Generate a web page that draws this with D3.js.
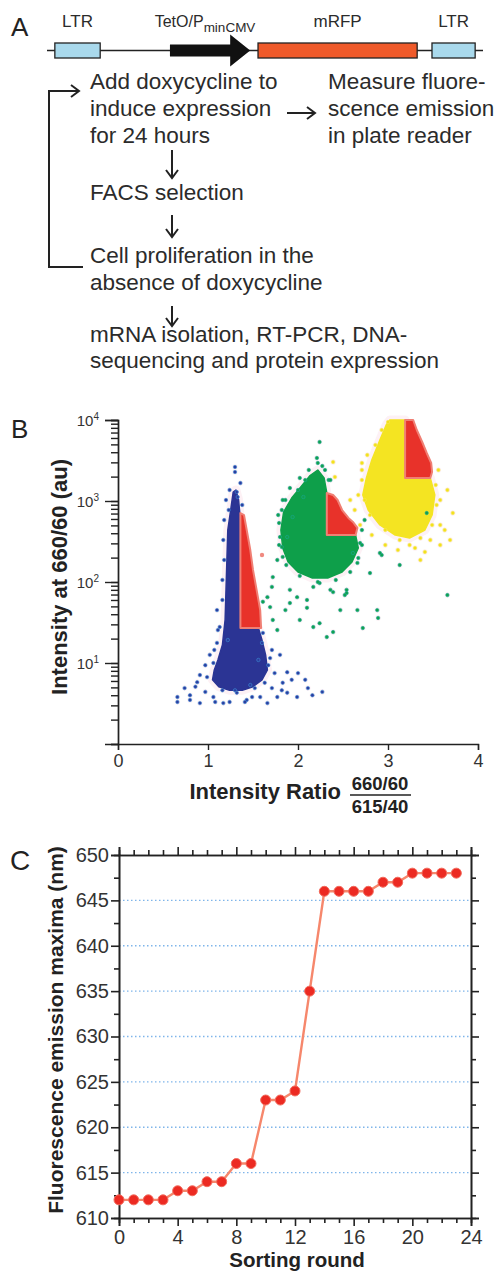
<!DOCTYPE html>
<html>
<head>
<meta charset="utf-8">
<script src="https://cdn.jsdelivr.net/npm/d3@7"></script>
<style>
body { margin: 0; background: #fff; }
svg { display: block; font-family: "Liberation Sans", Arial, sans-serif; }
</style>
</head>
<body>
<svg id="fig" width="496" height="1276"></svg>
<script>
// ---------- panel A: construct and protocol ----------
var constructParts = [
    {name: "LTR", type: "ltr", start: 1.8, end: 12.2},
    {name: "TetO/P", sub: "minCMV", type: "promoter", start: 28.2, end: 46.6},
    {name: "mRFP", type: "gene", start: 48.4, end: 84.9},
    {name: "LTR", type: "ltr", start: 88.3, end: 98.2}
];
var stepsLeft = ["Add doxycycline to", "induce expression", "for 24 hours",
    "FACS selection", "Cell proliferation in the", "absence of doxycycline",
    "mRNA isolation, RT-PCR, DNA-", "sequencing and protein expression"];
var stepsRight = ["Measure fluore-", "scence emission", "in plate reader"];

// ---------- panel B: FACS scatter (ratio, intensity) ----------
var bXTicks = [0, 1, 2, 3, 4];
var bYLabels = [10, 100, 1000, 10000];

var blueCore = [[1.31,1368],[1.34,1028],[1.36,582],[1.36,27],[1.56,27],[1.60,19.2],[1.64,12.6],
    [1.66,8.2],[1.60,6.2],[1.50,5.1],[1.38,4.6],[1.24,4.6],[1.12,5.1],[1.05,6.2],[1.07,8.2],
    [1.11,10.9],[1.16,16.7],[1.19,34],[1.20,80],[1.21,187],[1.22,438],[1.26,893],[1.28,1292]];
var blueGate = [[1.36,711],[1.40,671],[1.43,438],[1.47,248],[1.50,141],[1.54,80],[1.58,45],[1.59,27],[1.36,27]];
var bluePoints = [[1.30,2630],[1.30,2280],[1.32,1292],[1.33,1120],[0.66,3.8],[0.66,3.3],[0.86,5.1],
    [0.91,3.2],[1.06,3.8],[1.17,3.2],[1.32,4.3],[1.43,3.5],[1.58,3.8],[1.66,3.2],[1.77,3.8],[1.88,4.3],
    [1.99,3.8],[2.11,4.9],[2.27,4.4],[2.00,7.5],[1.80,12.6],[1.69,11.5],[1.88,7.7],[1.74,7.5],[1.60,17.7],
    [1.61,23.5],[1.06,10],[0.99,6.7],[0.88,5.8],[1.10,17.7],[1.13,27.8],[1.10,45],[0.97,4.4],[0.80,4.0],
    [0.74,4.9],[1.52,4.9],[1.63,5.7],[1.83,5.7],[1.93,6.2],[1.71,4.9],[1.41,3.3],[1.24,3.3],[1.08,3.3],
    [1.49,3.8],[1.18,187],[1.16,106],[1.17,330],[1.23,774],[1.11,25.5],[1.07,14.5],
    [0.97,9.4],[1.02,12.6],[0.91,7.1],[1.67,9.4],[1.71,14.5],[1.56,10.9],[1.47,5.35],[1.30,4.6],
    [1.16,4.6],[1.22,19.2],[1.16,60],[1.18,582],[1.20,1028],[1.24,1368],[1.36,1667],[1.38,893],
    [1.82,4.6],[2.08,6.2],[2.16,4.0],[0.80,3.5]];

var greenCore = [[2.13,2037],[2.22,2415],[2.29,1923],[2.32,1256],[2.32,380],[2.64,380],[2.67,263],
    [2.60,177],[2.49,133],[2.33,112],[2.16,112],[2.00,133],[1.89,177],[1.83,263],[1.81,438],
    [1.84,731],[1.93,1089],[2.04,1531]];
var greenGate = [[2.32,1256],[2.39,1186],[2.44,1028],[2.49,774],[2.56,617],[2.61,551],[2.66,465],[2.64,380],[2.32,380]];
var greenPoints = [[2.24,5350],[2.21,3395],[2.22,2946],[1.86,1028],[1.82,774],[1.79,535],[1.80,359],
    [1.82,270],[1.77,187],[1.72,115],[1.71,87],[1.66,65],[1.61,57],[1.69,49],[1.72,34],[1.77,25.5],
    [1.91,55],[1.99,65],[2.10,60],[2.17,87],[2.24,97],[2.39,75],[2.54,73],[2.47,45],[2.66,45],[2.72,27],
    [2.32,20.9],[2.39,24.1],[2.17,27.8],[2.24,31],[2.88,45],[2.89,36],[2.80,129],[2.93,215],[3.13,162],
    [2.66,172],[2.61,228],[2.69,303],[3.43,711],[3.66,69],[2.54,80],[1.91,80],[1.83,204],[1.88,359],
    [1.94,634],[2.06,1120],[2.91,228],[2.36,80],[2.10,48],[2.08,1816],[2.00,1368],[2.30,2415],
    [2.34,1816],[2.71,438],[2.74,582],
    [1.79,286],[1.87,162],[2.02,119],[2.22,100],[2.42,106],[2.58,133],[2.67,198],[2.71,286],
    [2.12,2415],[2.02,1923],[1.91,1446],[1.83,1028],[1.78,671],[2.36,1816],[2.27,2704],[2.52,69],
    [2.02,34],[1.86,45]];

var yellowCore = [[3.02,10000],[3.19,10000],[3.19,1923],[3.47,1923],[3.52,1186],[3.49,671],[3.41,438],
    [3.24,349],[3.08,380],[2.91,506],[2.78,774],[2.72,1186],[2.76,1923],[2.82,3210],[2.91,5660],[2.98,8670]];
var yellowGate = [[3.19,10000],[3.28,10000],[3.32,7530],[3.38,5350],[3.43,3915],[3.48,2946],[3.49,2280],[3.47,1923],[3.19,1923]];
var yellowPoints = [[3.72,711],[3.63,438],[3.58,286],[3.41,235],[3.30,263],[3.11,248],[2.97,286],
    [2.82,380],[2.69,506],[2.63,774],[2.67,1186],[2.71,2415],[2.77,3700],[3.58,1028],[3.66,1368],
    [3.56,2415],[2.39,3030],[2.71,2946],[2.41,1977],[2.58,1028],[3.58,506],[3.47,330],[3.24,286],
    [2.71,1816],[2.74,1028],[2.80,671],[2.97,438],[3.13,330],[3.36,349],[3.49,506],[3.54,893],
    [3.53,1577],[2.86,4914],[2.93,7530],[3.00,9445],[3.69,330],[3.36,187]];
var redPoints = [[1.60,215]];

// ---------- panel C: emission maxima per sorting round ----------
var rounds = [0,1,2,3,4,5,6,7,8,9,10,11,12,13,14,15,16,17,18,19,20,21,22,23];
var emission = [612,612,612,612,613,613,614,614,616,616,623,623,624,635,646,646,646,646,647,647,648,648,648,648];
var cYTicks = [610,615,620,625,630,635,640,645,650];
var cYMinor = [612.5,617.5,622.5,627.5,632.5,637.5,642.5,647.5];
var cGrid = [615,620,625,630,635,640,645];
var cXTicks = [0,4,8,12,16,20,24];
var cXMinor = [1,2,3,5,6,7,9,10,11,13,14,15,17,18,19,21,22,23];

var svg = d3.select("#fig");
var ink = "#222";
var textInk = "#2b2b2b";

// ===== Panel A =====
var gA = svg.append("g");
gA.append("text").attr("x", 11).attr("y", 36).attr("font-size", 26).attr("fill", ink).text("A");

var xMap = d3.scaleLinear().domain([0, 100]).range([47, 483]);
var mapY = 50.5;
gA.append("line")
    .attr("x1", xMap(0)).attr("x2", xMap(100))
    .attr("y1", mapY).attr("y2", mapY)
    .attr("stroke", ink).attr("stroke-width", 1.5);

constructParts.forEach(function (p) {
    var x0 = xMap(p.start), x1 = xMap(p.end);
    if (p.type === "promoter") {
        var head = 20;
        gA.append("path")
            .attr("d", "M" + x0 + "," + (mapY - 6) + "H" + (x1 - head) + "V" + (mapY - 16) +
                "L" + x1 + "," + mapY + "L" + (x1 - head) + "," + (mapY + 16) +
                "V" + (mapY + 6) + "H" + x0 + "Z")
            .attr("fill", "#111");
    } else {
        gA.append("rect")
            .attr("x", x0).attr("y", mapY - 7.5)
            .attr("width", x1 - x0).attr("height", 15)
            .attr("fill", p.type === "ltr" ? "#a9d9ec" : "#ef5a2a")
            .attr("stroke", ink).attr("stroke-width", 1.3);
    }
    var t = gA.append("text")
        .attr("x", (x0 + x1) / 2 - (p.sub ? 5 : 0)).attr("y", 27)
        .attr("text-anchor", "middle")
        .attr("font-size", p.sub ? 16 : 17).attr("fill", textInk)
        .text(p.name);
    if (p.sub) {
        t.append("tspan").attr("dy", 5).attr("font-size", 13.5).text(p.sub);
    }
});

var lineH = [89, 116, 143, 200, 263, 290, 342, 368];
stepsLeft.forEach(function (s, i) {
    gA.append("text").attr("x", 90).attr("y", lineH[i])
        .attr("font-size", 22.5).attr("fill", textInk).text(s);
});
stepsRight.forEach(function (s, i) {
    gA.append("text").attr("x", 328).attr("y", lineH[i])
        .attr("font-size", 22.5).attr("fill", textInk).text(s);
});

function downArrow(x, y0, y1) {
    gA.append("line").attr("x1", x).attr("x2", x).attr("y1", y0).attr("y2", y1)
        .attr("stroke", ink).attr("stroke-width", 2);
    gA.append("path").attr("d", "M" + (x - 6) + "," + (y1 - 8) + "L" + x + "," + y1 + "L" + (x + 6) + "," + (y1 - 8))
        .attr("fill", "none").attr("stroke", ink).attr("stroke-width", 2);
}
function rightArrow(x0, x1, y) {
    gA.append("line").attr("x1", x0).attr("x2", x1).attr("y1", y).attr("y2", y)
        .attr("stroke", ink).attr("stroke-width", 2);
    gA.append("path").attr("d", "M" + (x1 - 8) + "," + (y - 6) + "L" + x1 + "," + y + "L" + (x1 - 8) + "," + (y + 6))
        .attr("fill", "none").attr("stroke", ink).attr("stroke-width", 2);
}
downArrow(172, 150, 178);
downArrow(172, 215, 237);
downArrow(172, 306, 326);
rightArrow(287, 315, 113);
gA.append("path").attr("d", "M83,267H49V91H78")
    .attr("fill", "none").attr("stroke", ink).attr("stroke-width", 2);
gA.append("path").attr("d", "M71,85L79,91L71,97")
    .attr("fill", "none").attr("stroke", ink).attr("stroke-width", 2);

// ===== Panel B =====
var gB = svg.append("g");
gB.append("text").attr("x", 11).attr("y", 438).attr("font-size", 26).attr("fill", ink).text("B");

var xB = d3.scaleLinear().domain([0, 4]).range([118, 478]);
var yB = d3.scaleLog().domain([1, 10000]).range([744, 420]);
var lineB = d3.line().x(function (d) { return xB(d[0]); }).y(function (d) { return yB(d[1]); });

var clouds = [
    {core: yellowCore, gate: yellowGate, pts: yellowPoints, fill: "#f4e422", dot: "#f2e01c", edge: "#f6ea5a"},
    {core: greenCore, gate: greenGate, pts: greenPoints, fill: "#0e9f4a", dot: "#12a04c", edge: "#1aa894"},
    {core: blueCore, gate: blueGate, pts: bluePoints, fill: "#2b3494", dot: "#2d3b9f", edge: "#3d8fd4"}
];

// faint pink halo round the populations
clouds.forEach(function (c) {
    gB.append("path").attr("d", lineB(c.core) + "Z")
        .attr("fill", "#fdf4f7").attr("stroke", "#fdf1f5").attr("stroke-width", 9)
        .attr("stroke-linejoin", "round");
    gB.selectAll(null).data(c.pts).enter().append("circle")
        .attr("cx", function (d) { return xB(d[0]); })
        .attr("cy", function (d) { return yB(d[1]); })
        .attr("r", 2.8).attr("fill", "#fdf1f5");
});

clouds.forEach(function (c) {
    gB.append("path").attr("d", lineB(c.core) + "Z")
        .attr("fill", c.fill).attr("stroke", c.fill).attr("stroke-width", 1.5)
        .attr("stroke-linejoin", "round");
    gB.append("path").attr("d", lineB(c.gate) + "Z")
        .attr("fill", "#e8322a").attr("stroke", "#f07f74").attr("stroke-width", 2)
        .attr("stroke-linejoin", "round");
    gB.selectAll(null).data(c.pts).enter().append("circle")
        .attr("cx", function (d) { return xB(d[0]); })
        .attr("cy", function (d) { return yB(d[1]); })
        .attr("r", 1.7).attr("fill", c.dot)
        .attr("stroke", c.edge).attr("stroke-width", 0.6);
});
gB.selectAll(null).data(redPoints).enter().append("circle")
    .attr("cx", function (d) { return xB(d[0]); })
    .attr("cy", function (d) { return yB(d[1]); })
    .attr("r", 2.2).attr("fill", "#f08a80");

// axes
var minorB = d3.axisLeft(yB).tickValues(yB.ticks()).tickSize(7).tickFormat("");
gB.append("g").attr("transform", "translate(118,0)").call(minorB);
var majorB = d3.axisLeft(yB).tickValues(bYLabels).tickSize(13).tickPadding(6).tickFormat("");
var yAx = gB.append("g").attr("transform", "translate(118,0)").call(majorB);
yAx.selectAll(".tick text").each(function (d) {
    var t = d3.select(this);
    t.attr("fill", "#333").attr("dy", "0.5em");
    t.append("tspan").attr("font-size", 15).text("10");
    t.append("tspan").attr("dy", "-0.55em").attr("font-size", 10).text(Math.round(Math.log10(d)));
});
var xAxB = gB.append("g").attr("transform", "translate(0,744)")
    .call(d3.axisBottom(xB).tickValues(bXTicks).tickSize(6).tickPadding(4).tickFormat(d3.format("d")));
xAxB.selectAll(".tick text").attr("font-size", 18).attr("fill", "#333");
gB.selectAll(".domain, .tick line").attr("stroke", ink).attr("stroke-width", 1.4);

gB.append("text")
    .attr("transform", "translate(67,577) rotate(-90)")
    .attr("text-anchor", "middle").attr("font-size", 22).attr("font-weight", "bold").attr("fill", ink)
    .text("Intensity at 660/60 (au)");
gB.append("text").attr("x", 341).attr("y", 799)
    .attr("text-anchor", "end").attr("font-size", 22).attr("font-weight", "bold").attr("fill", ink)
    .text("Intensity Ratio");
gB.append("text").attr("x", 380).attr("y", 790)
    .attr("text-anchor", "middle").attr("font-size", 18.5).attr("font-weight", "bold").attr("fill", ink)
    .text("660/60");
gB.append("line").attr("x1", 350).attr("x2", 411).attr("y1", 795).attr("y2", 795)
    .attr("stroke", ink).attr("stroke-width", 1.6);
gB.append("text").attr("x", 380).attr("y", 813)
    .attr("text-anchor", "middle").attr("font-size", 18.5).attr("font-weight", "bold").attr("fill", ink)
    .text("615/40");

// ===== Panel C =====
var gC = svg.append("g");
gC.append("text").attr("x", 10).attr("y", 870).attr("font-size", 28).attr("fill", ink).text("C");

var xC = d3.scaleLinear().domain([0, 24]).range([119, 471]);
var yC = d3.scaleLinear().domain([610, 650]).range([1218, 855]);

gC.selectAll(null).data(cGrid).enter().append("line")
    .attr("x1", xC(0)).attr("x2", xC(24))
    .attr("y1", function (d) { return yC(d); }).attr("y2", function (d) { return yC(d); })
    .attr("stroke", "#7fb5ea").attr("stroke-width", 1.3).attr("stroke-dasharray", "1.5,2.5");

// minor ticks
gC.append("g").attr("transform", "translate(119,0)")
    .call(d3.axisLeft(yC).tickValues(cYMinor).tickSize(5).tickFormat(""));
gC.append("g").attr("transform", "translate(471,0)")
    .call(d3.axisLeft(yC).tickValues(cYMinor).tickSize(-5).tickFormat(""));
gC.append("g").attr("transform", "translate(0,1218)")
    .call(d3.axisBottom(xC).tickValues(cXMinor).tickSize(5).tickFormat(""));
gC.append("g").attr("transform", "translate(0,855)")
    .call(d3.axisBottom(xC).tickValues(cXMinor).tickSize(-5).tickFormat(""));
// major ticks
var yAxC = gC.append("g").attr("transform", "translate(119,0)")
    .call(d3.axisLeft(yC).tickValues(cYTicks).tickSize(8).tickPadding(2));
yAxC.selectAll(".tick text").attr("font-size", 20).attr("fill", "#333");
gC.append("g").attr("transform", "translate(471,0)")
    .call(d3.axisLeft(yC).tickValues(cYTicks).tickSize(-8).tickFormat(""));
var xAxC = gC.append("g").attr("transform", "translate(0,1218)")
    .call(d3.axisBottom(xC).tickValues(cXTicks).tickSize(8).tickPadding(4));
xAxC.selectAll(".tick text").attr("font-size", 20).attr("fill", "#333");
gC.append("g").attr("transform", "translate(0,855)")
    .call(d3.axisBottom(xC).tickValues(cXTicks).tickSize(-8).tickFormat(""));
gC.selectAll(".domain, .tick line").attr("stroke", ink).attr("stroke-width", 1.6);

var series = rounds.map(function (r, i) { return [r, emission[i]]; });
gC.append("path")
    .attr("d", d3.line().x(function (d) { return xC(d[0]); }).y(function (d) { return yC(d[1]); })(series))
    .attr("fill", "none").attr("stroke", "#f6876c").attr("stroke-width", 2.4);
gC.selectAll(null).data(series).enter().append("circle")
    .attr("cx", function (d) { return xC(d[0]); })
    .attr("cy", function (d) { return yC(d[1]); })
    .attr("r", 5).attr("fill", "#ec2a22")
    .attr("stroke", "#f26a5c").attr("stroke-width", 1);

gC.append("text")
    .attr("transform", "translate(63,1030) rotate(-90)")
    .attr("text-anchor", "middle").attr("font-size", 21).attr("font-weight", "bold").attr("fill", ink)
    .text("Fluorescence emission maxima (nm)");
gC.append("text").attr("x", 297).attr("y", 1267)
    .attr("text-anchor", "middle").attr("font-size", 20.5).attr("font-weight", "bold").attr("fill", ink)
    .text("Sorting round");
</script>
</body>
</html>
